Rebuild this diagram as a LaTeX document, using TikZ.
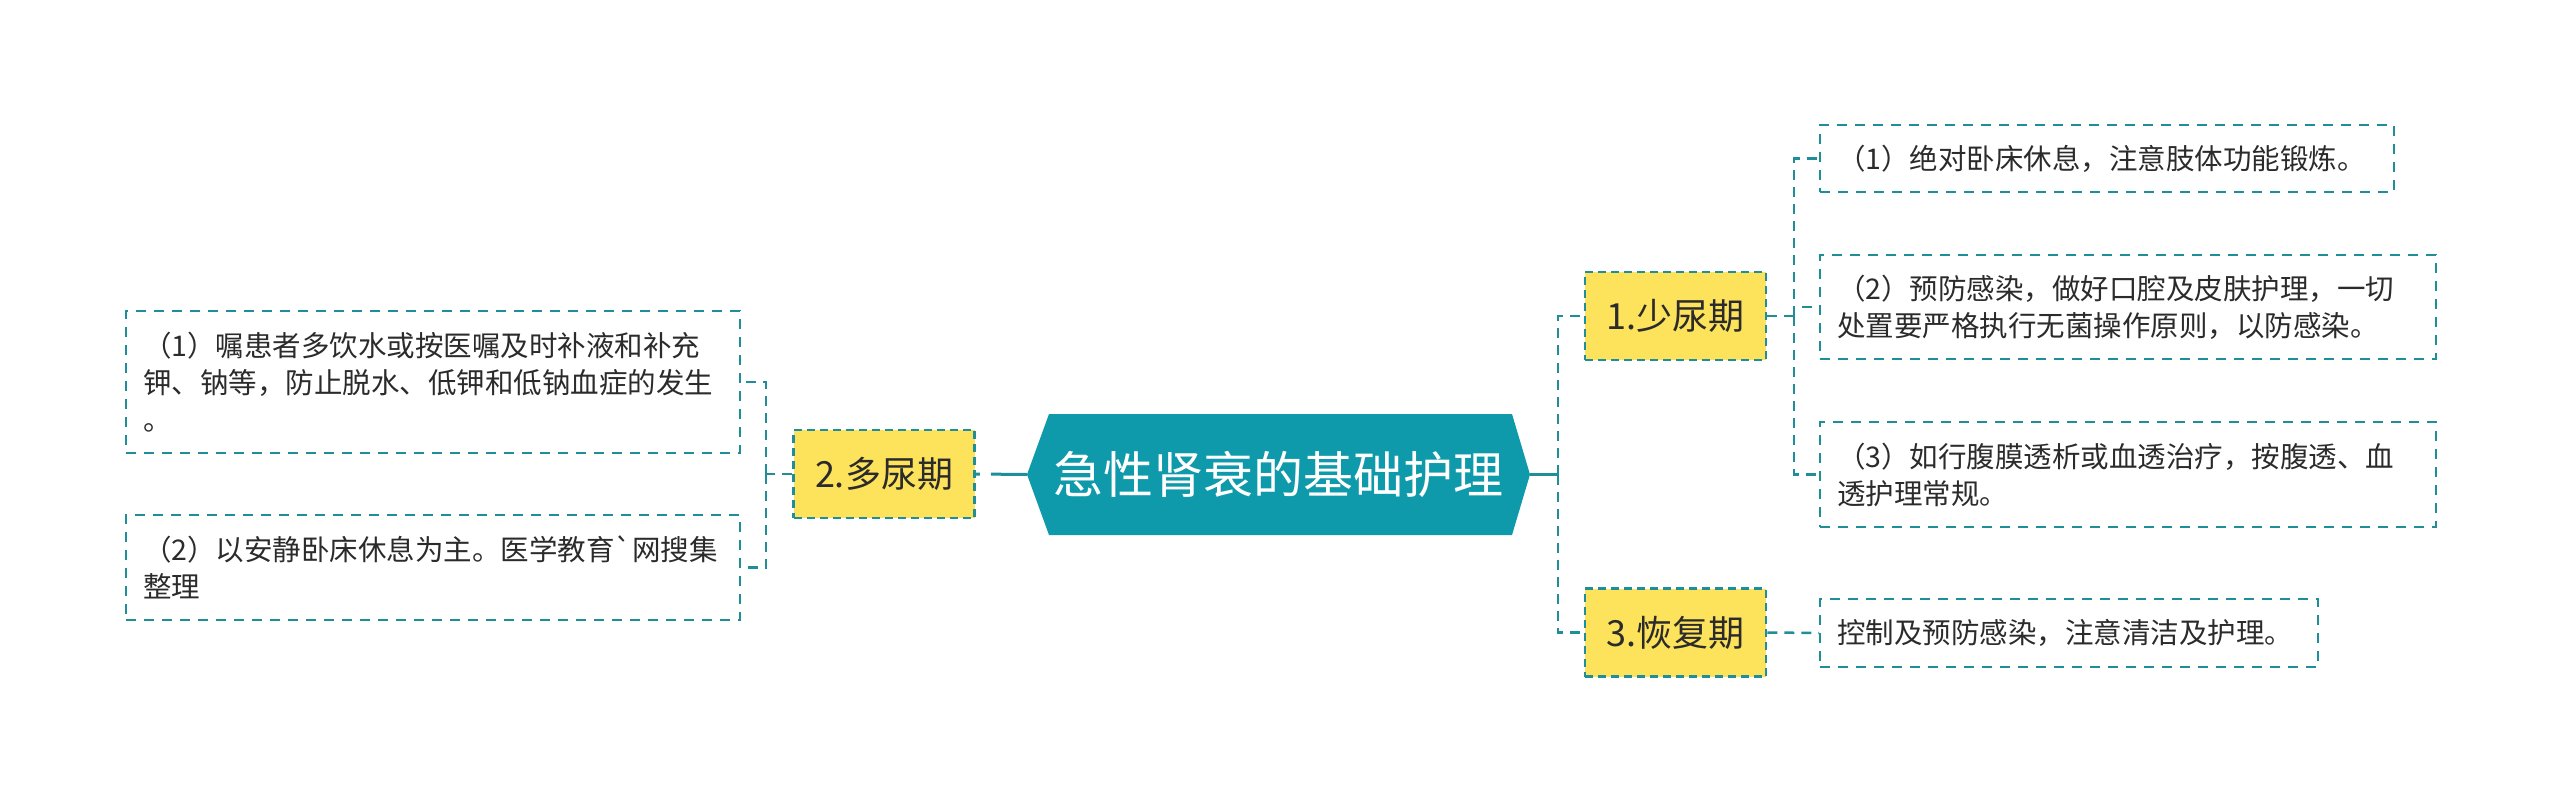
\documentclass[tikz,border=0pt]{standalone}
\usepackage{fontspec}
\setmainfont{Noto Sans CJK SC}
\usetikzlibrary{positioning}

\definecolor{coreTeal}{HTML}{0E9AAA}
\definecolor{lineTeal}{HTML}{1F8E99}
\definecolor{stageYellow}{HTML}{FDE35B}
\definecolor{noteInk}{HTML}{2B2B2B}

\tikzset{
  stagebox/.style={draw=lineTeal,fill=stageYellow,line width=2.5pt,
    dash pattern=on 8pt off 5pt,minimum width=181pt,minimum height=88pt,
    inner sep=0pt,text=noteInk,font=\fontsize{36}{44}\selectfont},
  notebox/.style={draw=lineTeal,line width=2pt,dash pattern=on 10pt off 8pt,
    inner xsep=17pt,inner ysep=0pt,align=left,text=noteInk,
    font=\fontsize{28.5}{37}\selectfont},
  link/.style={lineTeal,line width=2.5pt,dash pattern=on 10pt off 7pt},
  corelink/.style={lineTeal,line width=3pt}
}

\begin{document}
\begin{tikzpicture}[x=1pt,y=-1pt]
  \useasboundingbox (0,0) rectangle (2560,802);

  % centre topic
  \fill[coreTeal] (1027,474.5) -- (1049,414) -- (1512,414) -- (1530,474.5)
    -- (1512,535) -- (1049,535) -- cycle;
  \node[minimum width=503pt,minimum height=121pt,inner sep=0pt,text=white,
    font=\fontsize{50}{60}\selectfont] (core) at (1278.5,474.5)
    {急性肾衰的基础护理};

  % stages
  \node[stagebox] (oliguria) at (1675.5,316) {1.少尿期};
  \node[stagebox] (polyuria) at (884,474) {2.多尿期};
  \node[stagebox] (recovery) at (1675.5,632.5) {3.恢复期};

  % notes, left
  \node[notebox,text width=580pt,minimum height=142pt] (polyA) at (433,382)
    {（1）嘱患者多饮水或按医嘱及时补液和补充\\钾、钠等，防止脱水、低钾和低钠血症的发生\\。};
  \node[notebox,text width=580pt,minimum height=105pt] (polyB) at (433,567.5)
    {（2）以安静卧床休息为主。医学教育\textasciigrave 网搜集\\整理};

  % notes, right
  \node[notebox,text width=540pt,minimum height=67pt] (oligA) at (2107,158.5)
    {（1）绝对卧床休息，注意肢体功能锻炼。};
  \node[notebox,text width=582pt,minimum height=104pt] (oligB) at (2128,307)
    {（2）预防感染，做好口腔及皮肤护理，一切\\处置要严格执行无菌操作原则，以防感染。};
  \node[notebox,text width=582pt,minimum height=105pt] (oligC) at (2128,474.5)
    {（3）如行腹膜透析或血透治疗，按腹透、血\\透护理常规。};
  \node[notebox,text width=464pt,minimum height=68pt] (recA) at (2069,633)
    {控制及预防感染，注意清洁及护理。};

  % connectors
  \coordinate (jr) at (1558,474.5);
  \coordinate (jl) at (766,474);
  \coordinate (jo) at (1794,316);

  \draw[corelink] (core.east) -- (jr);
  \draw[corelink,dash pattern=on 36pt off 11pt on 12pt off 0pt]
    (core.west) -- (polyuria.east);
  \draw[link] (jr) |- (oliguria.west);
  \draw[link] (jr) |- (recovery.west);

  \draw[link] (polyuria.west) -- (jl);
  \draw[link] (jl) |- (polyA.east);
  \draw[link] (jl) |- (polyB.east);

  \draw[link] (oliguria.east) -- (jo);
  \draw[link] (jo) |- (oligA.west);
  \draw[link] (jo) |- (oligB.west);
  \draw[link] (jo) |- (oligC.west);
  \draw[link] (recovery.east) -- (recA.west);
\end{tikzpicture}
\end{document}
